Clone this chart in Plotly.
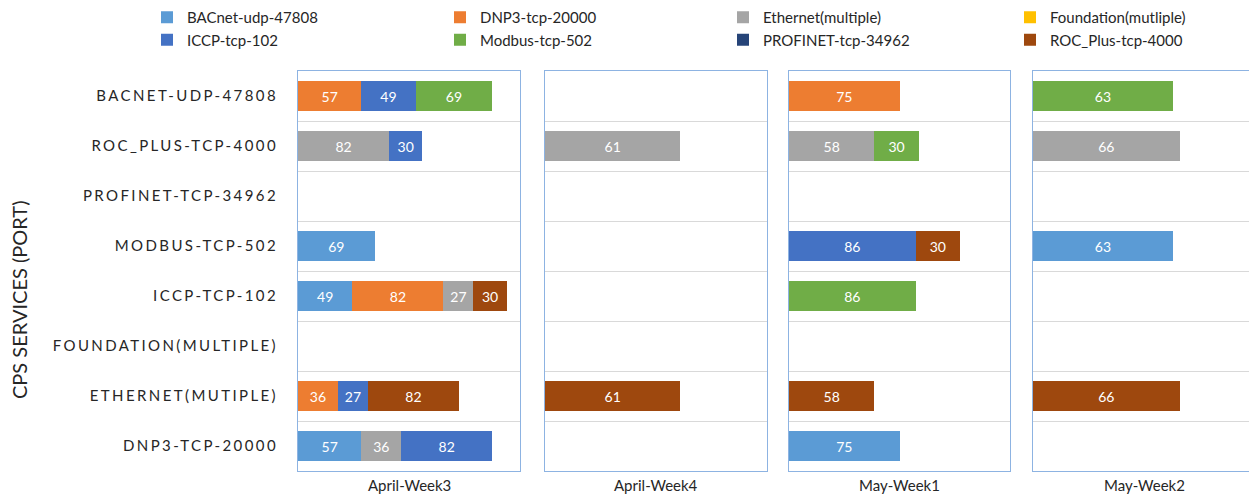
import plotly.graph_objects as go
from plotly.subplots import make_subplots

# ---------------- data ----------------
categories = ["BACNET-UDP-47808", "ROC_PLUS-TCP-4000", "PROFINET-TCP-34962", "MODBUS-TCP-502",
              "ICCP-TCP-102", "FOUNDATION(MULTIPLE)", "ETHERNET(MUTIPLE)", "DNP3-TCP-20000"]
weeks = ["April-Week3", "April-Week4", "May-Week1", "May-Week2"]
series = ["BACnet-udp-47808", "DNP3-tcp-20000", "Ethernet(multiple)", "Foundation(mutliple)",
          "ICCP-tcp-102", "Modbus-tcp-502", "PROFINET-tcp-34962", "ROC_Plus-tcp-4000"]
colors = ["#5B9BD5", "#ED7D31", "#A5A5A5", "#FFC000", "#4472C4", "#70AD47", "#264478", "#9E480E"]
N = None

# April-Week3 (values aligned with categories, top to bottom)
apr3_bacnet = [N, N, N, 69, 49, N, N, 57]
apr3_dnp3 = [57, N, N, N, 82, N, 36, N]
apr3_ethernet = [N, 82, N, N, 27, N, N, 36]
apr3_foundation = [N, N, N, N, N, N, N, N]
apr3_iccp = [49, 30, N, N, N, N, 27, 82]
apr3_modbus = [69, N, N, N, N, N, N, N]
apr3_profinet = [N, N, N, N, N, N, N, N]
apr3_roc = [N, N, N, N, 30, N, 82, N]

# April-Week4
apr4_bacnet = [N, N, N, N, N, N, N, N]
apr4_dnp3 = [N, N, N, N, N, N, N, N]
apr4_ethernet = [N, 61, N, N, N, N, N, N]
apr4_foundation = [N, N, N, N, N, N, N, N]
apr4_iccp = [N, N, N, N, N, N, N, N]
apr4_modbus = [N, N, N, N, N, N, N, N]
apr4_profinet = [N, N, N, N, N, N, N, N]
apr4_roc = [N, N, N, N, N, N, 61, N]

# May-Week1
may1_bacnet = [N, N, N, N, N, N, N, 75]
may1_dnp3 = [75, N, N, N, N, N, N, N]
may1_ethernet = [N, 58, N, N, N, N, N, N]
may1_foundation = [N, N, N, N, N, N, N, N]
may1_iccp = [N, N, N, 86, N, N, N, N]
may1_modbus = [N, 30, N, N, 86, N, N, N]
may1_profinet = [N, N, N, N, N, N, N, N]
may1_roc = [N, N, N, 30, N, N, 58, N]

# May-Week2
may2_bacnet = [N, N, N, 63, N, N, N, N]
may2_dnp3 = [N, N, N, N, N, N, N, N]
may2_ethernet = [N, 66, N, N, N, N, N, N]
may2_foundation = [N, N, N, N, N, N, N, N]
may2_iccp = [N, N, N, N, N, N, N, N]
may2_modbus = [63, N, N, N, N, N, N, N]
may2_profinet = [N, N, N, N, N, N, N, N]
may2_roc = [N, N, N, N, N, N, 66, N]

week_data = [
    [apr3_bacnet, apr3_dnp3, apr3_ethernet, apr3_foundation, apr3_iccp, apr3_modbus, apr3_profinet, apr3_roc],
    [apr4_bacnet, apr4_dnp3, apr4_ethernet, apr4_foundation, apr4_iccp, apr4_modbus, apr4_profinet, apr4_roc],
    [may1_bacnet, may1_dnp3, may1_ethernet, may1_foundation, may1_iccp, may1_modbus, may1_profinet, may1_roc],
    [may2_bacnet, may2_dnp3, may2_ethernet, may2_foundation, may2_iccp, may2_modbus, may2_profinet, may2_roc],
]
x_max = [200, 100, 150, 100]

# ---------------- figure ----------------
FONT = "Lato"
OFF = 8  # page body margin
W, H = 1257 - OFF, 497 - OFF
ML, MR, MT = 298 - OFF, 2, 71 - OFF
MB = H - (471 - OFF)
pw = W - ML - MR
ph = H - MT - MB
panel_px = [(298, 520), (545, 767), (789, 1010), (1033, 1255)]
domains = [[(a - OFF - ML) / pw, (b - OFF - ML) / pw] for a, b in panel_px]

legend_of_series = ["legend", "legend2", "legend3", "legend4", "legend", "legend2", "legend3", "legend4"]

fig = make_subplots(rows=1, cols=4, shared_yaxes=True, horizontal_spacing=0.02)

for w, wk in enumerate(weeks):
    for s, name in enumerate(series):
        vals = week_data[w][s]
        fig.add_trace(go.Bar(
            y=categories, x=vals, orientation="h", name=name,
            marker=dict(color=colors[s], line=dict(width=0)),
            text=[("" if v is None else str(v)) for v in vals],
            textposition="inside", insidetextanchor="middle", textangle=0,
            textfont=dict(color="white", size=14, family=FONT),
            legendgroup=name, showlegend=(w == 0), legend=legend_of_series[s],
            hoverinfo="x+y+name",
        ), row=1, col=w + 1)

cat_order = list(reversed(categories))
line_col = "#8DB3E2"
for i in range(4):
    xa = "xaxis" if i == 0 else f"xaxis{i+1}"
    ya = "yaxis" if i == 0 else f"yaxis{i+1}"
    fig.layout[xa].update(domain=domains[i], range=[0, x_max[i]], showticklabels=False, showgrid=False,
                          zeroline=False, showline=True, mirror=True, linecolor=line_col, linewidth=1,
                          fixedrange=True, automargin=False)
    fig.layout[ya].update(categoryorder="array", categoryarray=cat_order, tickson="boundaries",
                          showgrid=True, gridcolor="#D9D9D9", gridwidth=1, ticks="",
                          showline=True, mirror=True, linecolor=line_col, linewidth=1,
                          showticklabels=(i == 0), zeroline=False, fixedrange=True, automargin=False)
fig.layout.yaxis.update(
    tickfont=dict(family=FONT, size=15, color="#262626"), ticklabelstandoff=16,
    tickmode="array", tickvals=categories,
    ticktext=[f'<span style="letter-spacing:2.4px">{c}</span>' for c in categories],
)

annotations = []
for i, wk in enumerate(weeks):
    annotations.append(dict(text=wk, xref="paper", yref="paper",
                            x=(domains[i][0] + domains[i][1]) / 2, y=-(485 - 471) / ph,
                            xanchor="center", yanchor="middle", showarrow=False,
                            font=dict(family=FONT, size=15, color="#262626")))
annotations.append(dict(text="CPS SERVICES (PORT)", xref="paper", yref="paper",
                        x=(19 - OFF - ML) / pw, y=(471 - 300) / ph, textangle=-90,
                        xanchor="center", yanchor="middle", showarrow=False,
                        font=dict(family=FONT, size=20, color="#262626")))

leg_x = [147, 440, 723, 1010]
leg_top_fig = -7  # legend box top, in figure pixels
leg_common = dict(orientation="v", xref="container", yref="paper", yanchor="top", xanchor="left",
                  y=1 + (MT - leg_top_fig) / ph, font=dict(family=FONT, size=15, color="#262626"),
                  itemwidth=30, bgcolor="rgba(0,0,0,0)", tracegroupgap=0, traceorder="normal")

fig.update_layout(
    width=W, height=H, barmode="stack", bargap=0.4,
    margin=dict(l=ML, r=MR, t=MT, b=MB, autoexpand=False),
    paper_bgcolor="white", plot_bgcolor="white",
    font=dict(family=FONT),
    annotations=annotations,
    legend=dict(leg_common, x=(leg_x[0] - OFF) / W),
    legend2=dict(leg_common, x=(leg_x[1] - OFF) / W),
    legend3=dict(leg_common, x=(leg_x[2] - OFF) / W),
    legend4=dict(leg_common, x=(leg_x[3] - OFF) / W),
    uniformtext=dict(mode=False),
)

fig.write_html("out.html")
